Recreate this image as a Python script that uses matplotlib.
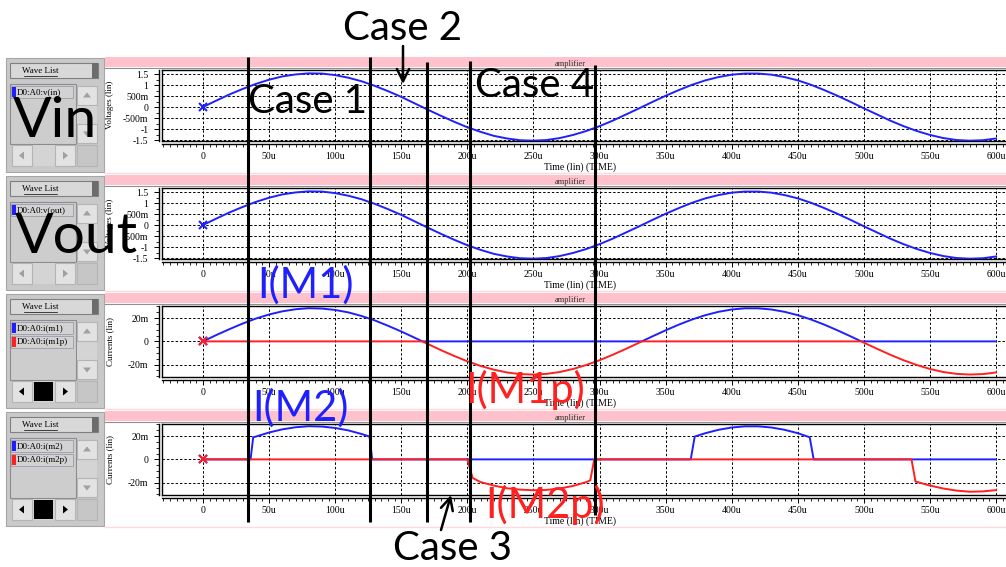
import matplotlib
matplotlib.use("Agg")
import matplotlib.pyplot as plt
from matplotlib.patches import Rectangle, Polygon
from matplotlib.lines import Line2D
from matplotlib.ticker import MultipleLocator, FixedLocator

plt.rcParams['font.family'] = 'serif'
plt.rcParams['font.serif'] = ['Liberation Serif', 'DejaVu Serif']

W, H = 1006, 567

# ---- data (time in us, volts, mA) ----
t_us = list(range(0, 601, 10))
vin = [0.00, 0.29, 0.57, 0.82, 1.05, 1.24, 1.39, 1.48, 1.53, 1.52,
       1.45, 1.33, 1.17, 0.96, 0.72, 0.46, 0.17, -0.12, -0.40, -0.67,
       -0.92, -1.13, -1.31, -1.43, -1.51, -1.53, -1.50, -1.41, -1.27, -1.09,
       -0.87, -0.62, -0.34, -0.06, 0.23, 0.51, 0.77, 1.01, 1.21, 1.36,
       1.47, 1.52, 1.52, 1.47, 1.36, 1.21, 1.01, 0.77, 0.51, 0.23,
       -0.06, -0.34, -0.62, -0.87, -1.09, -1.27, -1.41, -1.50, -1.53, -1.51,
       -1.43]
# output follows the input, the two traces look the same on screen
vout = [0.00, 0.29, 0.57, 0.82, 1.05, 1.24, 1.39, 1.48, 1.53, 1.52,
        1.45, 1.33, 1.17, 0.96, 0.72, 0.46, 0.17, -0.12, -0.40, -0.67,
        -0.92, -1.13, -1.31, -1.43, -1.51, -1.53, -1.50, -1.41, -1.27, -1.09,
        -0.87, -0.62, -0.34, -0.06, 0.23, 0.51, 0.77, 1.01, 1.21, 1.36,
        1.47, 1.52, 1.52, 1.47, 1.36, 1.21, 1.01, 0.77, 0.51, 0.23,
        -0.06, -0.34, -0.62, -0.87, -1.09, -1.27, -1.41, -1.50, -1.53, -1.51,
        -1.43]

t_m1 = [0, 10, 20, 30, 40, 50, 60, 70, 80, 90, 100, 110, 120, 130, 140, 150, 160, 166,
        332, 340, 350, 360, 370, 380, 390, 400, 410, 420, 430, 440, 450, 460, 470, 480, 490, 498, 600]
i_m1 = [0, 5.4, 10.5, 15.3, 19.6, 23.1, 25.8, 27.6, 28.5, 28.2, 27.0, 24.9, 21.8, 18.0, 13.4, 8.5, 3.2, 0,
        0, 4.3, 9.5, 14.4, 18.8, 22.5, 25.4, 27.4, 28.4, 28.4, 27.4, 25.4, 22.5, 18.8, 14.4, 9.5, 4.3, 0, 0]

t_m1p = [0, 166, 170, 180, 190, 200, 210, 220, 230, 240, 250, 260, 270, 280, 290, 300, 310, 320, 330, 332,
         498, 500, 510, 520, 530, 540, 550, 560, 570, 580, 590, 600]
i_m1p = [0, 0, -2.2, -7.5, -12.5, -17.1, -21.1, -24.3, -26.7, -28.1, -28.5, -27.9, -26.3, -23.7, -20.3,
         -16.2, -11.5, -6.4, -1.1, 0,
         0, -1.1, -6.4, -11.5, -16.2, -20.3, -23.7, -26.3, -27.9, -28.5, -28.1, -26.7]

t_m2 = [0, 36, 38, 40, 50, 60, 70, 80, 90, 100, 110, 120, 126, 128,
        369, 372, 380, 390, 400, 410, 420, 430, 440, 450, 459, 462, 600]
i_m2 = [0, 0, 19.0, 19.6, 23.1, 25.8, 27.6, 28.5, 28.2, 27.0, 24.9, 21.8, 19.6, 0,
        0, 19.6, 22.5, 25.4, 27.4, 28.4, 28.4, 27.4, 25.4, 22.5, 19.0, 0, 0]

t_m2p = [0, 200, 204, 210, 220, 230, 240, 250, 260, 270, 280, 290, 293, 296,
         536, 539, 550, 560, 570, 580, 590, 600]
i_m2p = [0, 0, -16.0, -19.5, -22.5, -24.8, -26.0, -26.5, -26.2, -25.0, -22.8, -19.5, -18.0, 0,
         0, -19.0, -22.5, -25.0, -26.8, -27.8, -27.5, -26.4]

x_ticks = list(range(0, 601, 50))
x_labels = ['0'] + ['%du' % v for v in x_ticks[1:]]
v_ticks = [1.5, 1, 0.5, 0, -0.5, -1, -1.5]
v_labels = ['1.5', '1', '500m', '0', '-500m', '-1', '-1.5']
i_ticks = [20, 0, -20]
i_labels = ['20m', '0', '-20m']

# boundaries of the four cases (us) drawn over the screen grab
case_edges = [34, 126, 169.5, 202, 296.5]

BLUE = '#2020ff'
RED = '#ff2020'

fig = plt.figure(figsize=(W / 100, H / 100), dpi=100)
fig.patch.set_facecolor('white')

# background layer in pixel coordinates (y down)
bg = fig.add_axes([0, 0, 1, 1], zorder=-1)
bg.set_xlim(0, W)
bg.set_ylim(H, 0)
bg.axis('off')


def tri(cx, cy, d, color):
    s = 4
    if d == 'up':
        pts = [(cx - s, cy + 2), (cx + s, cy + 2), (cx, cy - 3)]
    elif d == 'down':
        pts = [(cx - s, cy - 2), (cx + s, cy - 2), (cx, cy + 3)]
    elif d == 'left':
        pts = [(cx + 2, cy - s), (cx + 2, cy + s), (cx - 3, cy)]
    else:
        pts = [(cx - 2, cy - s), (cx - 2, cy + s), (cx + 3, cy)]
    bg.add_patch(Polygon(pts, closed=True, fc=color, ec='none'))


def wave_list(off, items, active):
    bg.add_patch(Rectangle((6, 58 + off), 98, 114, fc='#c9c9c9', ec='#a6a6a6', lw=0.8))
    bg.add_patch(Rectangle((10, 63 + off), 88, 15, fc='#d8d8d8', ec='#808080', lw=0.8))
    bg.add_patch(Rectangle((92, 63 + off), 6, 15, fc='#6c6c6c', ec='none'))
    bg.text(40, 71 + off, 'Wave List', fontsize=6.5, ha='center', va='center')
    bg.plot([24, 57], [75.5 + off, 75.5 + off], color='k', lw=0.5)
    bg.add_patch(Rectangle((10, 84 + off), 66, 60, fc='#cdcdcd', ec='#8c8c8c', lw=0.8))
    for i, (label, col) in enumerate(items):
        yc = 92 + 14 * i + off
        bg.add_patch(Rectangle((11, yc - 6), 62, 12, fc='#d2d2d2', ec='#9a9aaa', lw=0.6))
        bg.add_patch(Rectangle((12, yc - 5), 4, 10, fc=col, ec='none'))
        bg.text(17, yc, label, fontsize=6.5, ha='left', va='center')
    # vertical scroll bar
    bg.add_patch(Rectangle((77, 86 + off), 20, 58, fc='#d4d4d4', ec='none'))
    for y0, d in ((86, 'up'), (124, 'down')):
        bg.add_patch(Rectangle((77, y0 + off), 20, 19, fc='#e2e2e2', ec='#b4b4b4', lw=0.8))
        tri(87, y0 + 9.5 + off, d, '#a0a0a0')
    # horizontal scroll bar
    bg.add_patch(Rectangle((12, 145 + off), 63, 21, fc='#d4d4d4', ec='none'))
    arrow_col = 'black' if active else '#a0a0a0'
    for x0, d in ((12, 'left'), (55, 'right')):
        bg.add_patch(Rectangle((x0, 145 + off), 20, 21, fc='#e2e2e2', ec='#b4b4b4', lw=0.8))
        tri(x0 + 10, 155.5 + off, d, arrow_col)
    if active:
        bg.add_patch(Rectangle((34, 146 + off), 19, 19, fc='black', ec='none'))
    bg.add_patch(Rectangle((77, 145 + off), 20, 21, fc='#c6c6c6', ec='#b4b4b4', lw=0.8))
    # pink title band and panel edges
    bg.add_patch(Rectangle((105, 57 + off), W - 105, 10, fc='#ffc2cc', ec='none'))
    bg.plot([105, W], [68 + off, 68 + off], color='#909090', lw=0.8)
    bg.plot([105, W], [173 + off, 173 + off], color='#ffd8de', lw=1)
    bg.text(570, 63.5 + off, 'amplifier', fontsize=6, ha='center', va='center', color='#303030')
    bg.text(580, 167 + off, 'Time (lin) (TIME)', fontsize=7, ha='center', va='center')


panels = [
    (0, [('D0:A0:v(in)', BLUE)], False, 'Voltages (lin)'),
    (118, [('D0:A0:v(out)', BLUE)], False, 'Voltages (lin)'),
    (236, [('D0:A0:i(m1)', BLUE), ('D0:A0:i(m1p)', RED)], True, 'Currents (lin)'),
    (354, [('D0:A0:i(m2)', BLUE), ('D0:A0:i(m2p)', RED)], True, 'Currents (lin)'),
]

axs = []
for off, items, active, ylab in panels:
    wave_list(off, items, active)
    bg.text(110, 105 + off, ylab, fontsize=6.5, rotation=90, ha='center', va='center')
    ax = fig.add_axes([162 / W, 1 - (141 + off) / H, (W - 162) / W, 71 / H])
    ax.set_facecolor('white')
    ax.set_xlim(-31, 607.5)
    ax.spines['right'].set_visible(False)
    ax.spines['top'].set_linewidth(1)
    for s in ('left', 'bottom'):
        ax.spines[s].set_position(('outward', 2.2))
        ax.spines[s].set_linewidth(1)
    ax.add_line(Line2D([0, 0], [0, 1], transform=ax.transAxes, color='k', lw=1, clip_on=False))
    ax.add_line(Line2D([0, 1], [0, 0], transform=ax.transAxes, color='k', lw=1, clip_on=False))
    ax.xaxis.set_major_locator(FixedLocator(x_ticks))
    ax.set_xticklabels(x_labels)
    ax.xaxis.set_minor_locator(MultipleLocator(5))
    ax.tick_params(which='major', direction='out', length=3.5, width=0.7, labelsize=7)
    ax.tick_params(which='minor', direction='out', length=2, width=0.6)
    ax.tick_params(axis='x', pad=2)
    ax.tick_params(axis='y', pad=4)
    ax.grid(True, which='major', color='k', linestyle=(0, (2.5, 2)), linewidth=0.7)
    axs.append(ax)

ax1, ax2, ax3, ax4 = axs
for ax, v in ((ax1, vin), (ax2, vout)):
    ax.set_ylim(-1.545, 1.682)
    ax.yaxis.set_major_locator(FixedLocator(v_ticks))
    ax.set_yticklabels(v_labels)
    ax.yaxis.set_minor_locator(MultipleLocator(0.25))
    ax.plot(t_us, v, color=BLUE, lw=1.4)
    ax.plot([0], [0], 'x', color=BLUE, ms=6, mew=1.5)

for ax, tb, ib, tr, ir in ((ax3, t_m1, i_m1, t_m1p, i_m1p), (ax4, t_m2, i_m2, t_m2p, i_m2p)):
    ax.set_ylim(-30.6, 30.4)
    ax.yaxis.set_major_locator(FixedLocator(i_ticks))
    ax.set_yticklabels(i_labels)
    ax.yaxis.set_minor_locator(MultipleLocator(5))
    ax.plot(tb, ib, color=BLUE, lw=1.4)
    ax.plot(tr, ir, color=RED, lw=1.4)
    ax.plot([0], [0], 'x', color=BLUE, ms=6, mew=1.5)
    ax.plot([0], [0], 'x', color=RED, ms=6, mew=1.5)

# overlay with the hand-drawn case marks, pixel coordinates
ov = fig.add_axes([0, 0, 1, 1], zorder=10)
ov.set_xlim(0, W)
ov.set_ylim(H, 0)
ov.axis('off')
ov.patch.set_visible(False)

to_px = ov.transData.inverted()
case_tops = [57, 57, 62, 61, 65]
case_bottoms = [522, 522, 522, 522, 515]
for t, top, bot in zip(case_edges, case_tops, case_bottoms):
    x = to_px.transform(ax1.transData.transform((t, 0)))[0]
    ov.plot([x, x], [top, bot], color='k', lw=2.2, solid_capstyle='butt')

ann = dict(family='Lato', ha='left', va='baseline')
ov.text(13, 137, 'Vin', fontsize=41, color='k', **ann)
ov.text(15, 253, 'Vout', fontsize=41, color='k', **ann)
ov.text(248, 113, 'Case 1', fontsize=29, color='k', **ann)
ov.text(343, 40, 'Case 2', fontsize=29, color='k', **ann)
ov.text(475, 97, 'Case 4', fontsize=29, color='k', **ann)
ov.text(393, 560, 'Case 3', fontsize=29, color='k', **ann)
ov.text(257, 298, 'I(M1)', fontsize=30, color=BLUE, **ann)
ov.text(252, 421, 'I(M2)', fontsize=30, color=BLUE, **ann)
ov.text(465, 403, 'I(M1p)', fontsize=30, color=RED, **ann)
ov.text(485, 518, 'I(M2p)', fontsize=30, color=RED, **ann)

arrow = dict(arrowstyle='->', lw=1.8, color='k', mutation_scale=22, shrinkA=0, shrinkB=0)
ov.annotate('', xy=(403, 84), xytext=(403, 46), arrowprops=arrow)
ov.annotate('', xy=(451, 495), xytext=(441, 530), arrowprops=arrow)

fig.savefig('out.png', dpi=100)
